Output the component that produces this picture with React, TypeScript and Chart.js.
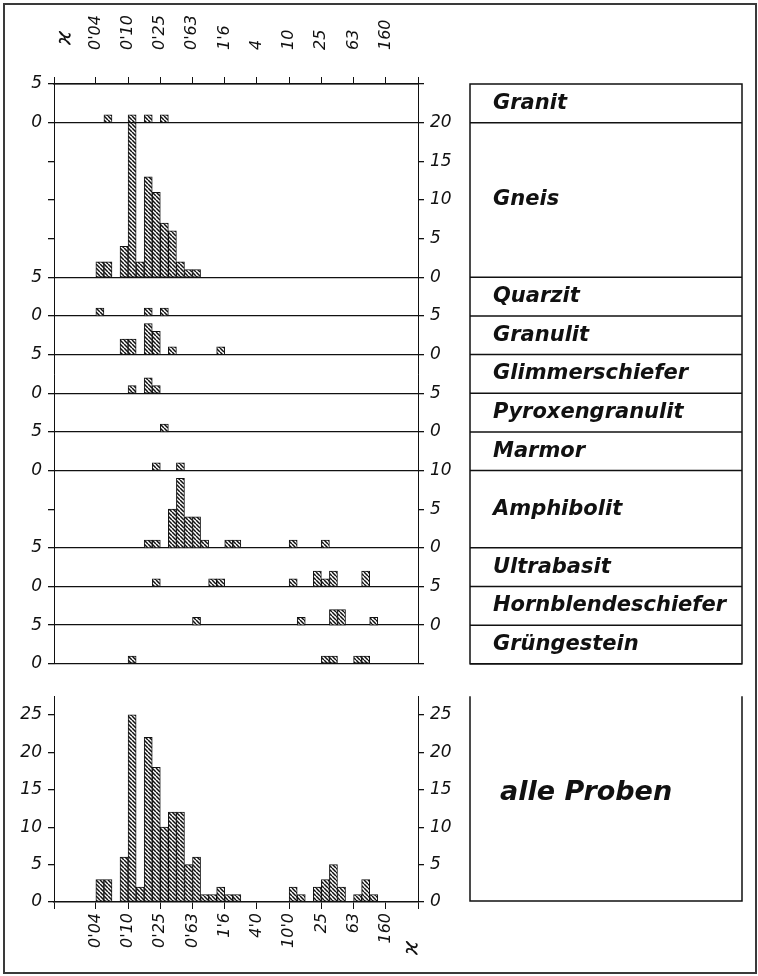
import React, { useEffect, useRef } from 'react';
import { Chart, registerables } from 'chart.js';

Chart.register(...registerables);

// x axis: susceptibility classes of 0.1 log-decade; class 0 starts at kappa = 0.04
const topTickLabels = ["0'04", "0'10", "0'25", "0'63", "1'6", "4", "10", "25", "63", "160"];
const bottomTickLabels = ["0'04", "0'10", "0'25", "0'63", "1'6", "4'0", "10'0", "25", "63", "160"];
const classesPerTick = 4;
const xMin = -5.2;
const xMax = 40;
const kappaSymbol = 'ϰ';

// rock types, top to bottom
const rockTypes = ['Granit', 'Gneis', 'Quarzit', 'Granulit', 'Glimmerschiefer', 'Pyroxengranulit', 'Marmor', 'Amphibolit', 'Ultrabasit', 'Hornblendeschiefer', 'Grüngestein'];
const panelMax = [5, 20, 5, 5, 5, 5, 5, 10, 5, 5, 5];
const labelSide = ['left', 'right', 'left', 'right', 'left', 'right', 'left', 'right', 'left', 'right', 'left'];
const panelTickStep = 5;

// counts per class (class 0 .. 34)
const granit = [0, 1, 0, 0, 1, 0, 1, 0, 1, 0, 0, 0, 0, 0, 0, 0, 0, 0, 0, 0, 0, 0, 0, 0, 0, 0, 0, 0, 0, 0, 0, 0, 0, 0, 0];
const gneis = [2, 2, 0, 4, 20, 2, 13, 11, 7, 6, 2, 1, 1, 0, 0, 0, 0, 0, 0, 0, 0, 0, 0, 0, 0, 0, 0, 0, 0, 0, 0, 0, 0, 0, 0];
const quarzit = [1, 0, 0, 0, 0, 0, 1, 0, 1, 0, 0, 0, 0, 0, 0, 0, 0, 0, 0, 0, 0, 0, 0, 0, 0, 0, 0, 0, 0, 0, 0, 0, 0, 0, 0];
const granulit = [0, 0, 0, 2, 2, 0, 4, 3, 0, 1, 0, 0, 0, 0, 0, 1, 0, 0, 0, 0, 0, 0, 0, 0, 0, 0, 0, 0, 0, 0, 0, 0, 0, 0, 0];
const glimmerschiefer = [0, 0, 0, 0, 1, 0, 2, 1, 0, 0, 0, 0, 0, 0, 0, 0, 0, 0, 0, 0, 0, 0, 0, 0, 0, 0, 0, 0, 0, 0, 0, 0, 0, 0, 0];
const pyroxengranulit = [0, 0, 0, 0, 0, 0, 0, 0, 1, 0, 0, 0, 0, 0, 0, 0, 0, 0, 0, 0, 0, 0, 0, 0, 0, 0, 0, 0, 0, 0, 0, 0, 0, 0, 0];
const marmor = [0, 0, 0, 0, 0, 0, 0, 1, 0, 0, 1, 0, 0, 0, 0, 0, 0, 0, 0, 0, 0, 0, 0, 0, 0, 0, 0, 0, 0, 0, 0, 0, 0, 0, 0];
const amphibolit = [0, 0, 0, 0, 0, 0, 1, 1, 0, 5, 9, 4, 4, 1, 0, 0, 1, 1, 0, 0, 0, 0, 0, 0, 1, 0, 0, 0, 1, 0, 0, 0, 0, 0, 0];
const ultrabasit = [0, 0, 0, 0, 0, 0, 0, 1, 0, 0, 0, 0, 0, 0, 1, 1, 0, 0, 0, 0, 0, 0, 0, 0, 1, 0, 0, 2, 1, 2, 0, 0, 0, 2, 0];
const hornblendeschiefer = [0, 0, 0, 0, 0, 0, 0, 0, 0, 0, 0, 0, 1, 0, 0, 0, 0, 0, 0, 0, 0, 0, 0, 0, 0, 1, 0, 0, 0, 2, 2, 0, 0, 0, 1];
const gruengestein = [0, 0, 0, 0, 1, 0, 0, 0, 0, 0, 0, 0, 0, 0, 0, 0, 0, 0, 0, 0, 0, 0, 0, 0, 0, 0, 0, 0, 1, 1, 0, 0, 1, 1, 0];
const rockSeries = [granit, gneis, quarzit, granulit, glimmerschiefer, pyroxengranulit, marmor, amphibolit, ultrabasit, hornblendeschiefer, gruengestein];

const allLabel = 'alle Proben';
const alleProben = [3, 3, 0, 6, 25, 2, 22, 18, 10, 12, 12, 5, 6, 1, 1, 2, 1, 1, 0, 0, 0, 0, 0, 0, 2, 1, 0, 2, 3, 5, 2, 0, 1, 3, 1];
const alleTicks = [0, 5, 10, 15, 20, 25];
const alleMax = 27.5;

// layout
const W = 758;
const TOP_H = 680;
const BOT_H = 296;
const PLOT_LEFT = 54;
const PLOT_RIGHT = 418;
const BOX_LEFT = 470;
const BOX_RIGHT = 742;
const FONT = "'DejaVu Sans', 'Liberation Sans', sans-serif";
const INK = '#111';

const panelBase: number[] = [];
(() => {
  let acc = 0;
  for (let i = rockTypes.length - 1; i >= 0; i--) {
    panelBase[i] = acc;
    acc += panelMax[i];
  }
})();
const panelTotal = panelMax.reduce((a, b) => a + b, 0);

function makeHatch(): CanvasPattern | string {
  const s = 4;
  const c = document.createElement('canvas');
  c.width = s;
  c.height = s;
  const g = c.getContext('2d');
  if (!g) return '#999';
  g.fillStyle = '#fff';
  g.fillRect(0, 0, s, s);
  g.strokeStyle = '#111';
  g.lineWidth = 1.5;
  g.beginPath();
  for (const k of [-s, 0, s]) {
    g.moveTo(k, 0);
    g.lineTo(k + s, s);
  }
  g.stroke();
  return g.createPattern(c, 'repeat') || '#999';
}

export default function App() {
  const topRef = useRef<HTMLCanvasElement>(null);
  const botRef = useRef<HTMLCanvasElement>(null);

  useEffect(() => {
    if (!topRef.current || !botRef.current) return;
    const hatch = makeHatch();
    const tickFont = { family: FONT, size: 17, style: 'italic' as const };
    const xTickFont = { family: FONT, size: 16, style: 'italic' as const };

    const xTicks: number[] = [xMin];
    for (let v = 0; v <= xMax; v += classesPerTick) xTicks.push(v);
    const xLabel = (labels: string[]) => (val: any) => {
      const n = Number(val);
      if (n >= 0 && n % classesPerTick === 0) return labels[n / classesPerTick] ?? '';
      return '';
    };

    const leftLab = new Map<number, string>();
    const rightLab = new Map<number, string>();
    const yTickSet = new Set<number>();
    const boundaries = new Set<number>();
    rockTypes.forEach((_, i) => {
      const b = panelBase[i];
      boundaries.add(b);
      boundaries.add(b + panelMax[i]);
      for (let v = 0; v <= panelMax[i]; v += panelTickStep) {
        yTickSet.add(b + v);
        (labelSide[i] === 'left' ? leftLab : rightLab).set(b + v, String(v));
      }
    });
    const yTicks = Array.from(yTickSet).sort((a, b) => a - b);

    const barStyle = {
      backgroundColor: hatch,
      borderColor: INK,
      borderWidth: 1,
      borderSkipped: false,
      grouped: false,
      barPercentage: 1,
      categoryPercentage: 1,
    };

    const xScale = (position: string, labels: string[], padding: number, height: number, labelOffset: number) => ({
      type: 'linear',
      position,
      min: xMin,
      max: xMax,
      offset: false,
      grid: { drawOnChartArea: false, offset: false, tickLength: 7, tickColor: INK, lineWidth: 1 },
      border: { display: true, color: INK, width: 1.5 },
      ticks: {
        autoSkip: false,
        minRotation: 90,
        maxRotation: 90,
        padding,
        labelOffset,
        color: INK,
        font: xTickFont,
        callback: xLabel(labels),
      },
      afterBuildTicks: (s: any) => {
        s.ticks = xTicks.map((v) => ({ value: v }));
      },
      afterFit: (s: any) => {
        s.height = height;
      },
    });

    const rockBoxes = {
      id: 'rockBoxes',
      afterDraw(chart: any) {
        const ctx = chart.ctx;
        const y = chart.scales.yL;
        ctx.save();
        ctx.strokeStyle = INK;
        ctx.lineWidth = 1.5;
        const top = y.getPixelForValue(panelTotal);
        const bottom = y.getPixelForValue(0);
        ctx.strokeRect(BOX_LEFT, top, BOX_RIGHT - BOX_LEFT, bottom - top);
        ctx.fillStyle = INK;
        ctx.font = `italic bold 21px ${FONT}`;
        ctx.textBaseline = 'middle';
        ctx.textAlign = 'left';
        rockTypes.forEach((name, i) => {
          const yb = y.getPixelForValue(panelBase[i]);
          const yt = y.getPixelForValue(panelBase[i] + panelMax[i]);
          ctx.beginPath();
          ctx.moveTo(BOX_LEFT, yb);
          ctx.lineTo(BOX_RIGHT, yb);
          ctx.stroke();
          ctx.fillText(name, BOX_LEFT + 23, (yb + yt) / 2);
        });
        ctx.font = `italic 22px ${FONT}`;
        ctx.textAlign = 'center';
        ctx.translate(65, 38);
        ctx.rotate(-Math.PI / 2);
        ctx.fillText(kappaSymbol, 0, 0);
        ctx.restore();
      },
    };

    const topChart = new Chart(topRef.current, {
      type: 'bar',
      data: {
        datasets: rockTypes.map((name, i) => ({
          label: name,
          data: rockSeries[i]
            .map((v, k) => ({ x: k + 0.5, y: [panelBase[i], panelBase[i] + v], v }))
            .filter((d) => d.v > 0)
            .map(({ x, y }) => ({ x, y })),
          xAxisID: 'x',
          yAxisID: 'yL',
          ...barStyle,
        })) as any,
      },
      options: {
        responsive: false,
        animation: false,
        layout: { padding: { left: 0, right: W - PLOT_RIGHT - 40, top: 0, bottom: 10 } },
        plugins: { legend: { display: false }, tooltip: { enabled: false } },
        scales: {
          x: xScale('top', topTickLabels, 27, 84, 19) as any,
          yL: {
            type: 'linear',
            position: 'left',
            min: 0,
            max: panelTotal,
            grid: {
              drawOnChartArea: true,
              tickLength: 6,
              tickColor: INK,
              lineWidth: 1.3,
              color: (c: any) => (c.tick && boundaries.has(c.tick.value) ? INK : 'rgba(0,0,0,0)'),
            },
            border: { display: true, color: INK, width: 1 },
            ticks: { padding: 6, color: INK, font: tickFont, callback: (v: any) => leftLab.get(Number(v)) ?? '' },
            afterBuildTicks: (s: any) => {
              s.ticks = yTicks.map((v) => ({ value: v }));
            },
            afterFit: (s: any) => {
              s.width = PLOT_LEFT;
            },
          } as any,
          yR: {
            type: 'linear',
            position: 'right',
            min: 0,
            max: panelTotal,
            grid: { drawOnChartArea: false, tickLength: 6, tickColor: INK, lineWidth: 1.3 },
            border: { display: true, color: INK, width: 1 },
            ticks: { padding: 6, color: INK, font: tickFont, callback: (v: any) => rightLab.get(Number(v)) ?? '' },
            afterBuildTicks: (s: any) => {
              s.ticks = yTicks.map((v) => ({ value: v }));
            },
            afterFit: (s: any) => {
              s.width = 40;
            },
          } as any,
        },
      },
      plugins: [rockBoxes],
    });

    const allBox = {
      id: 'allBox',
      afterDraw(chart: any) {
        const ctx = chart.ctx;
        const y = chart.scales.y;
        const top = chart.chartArea.top;
        const bottom = y.getPixelForValue(0) - 1;
        ctx.save();
        ctx.strokeStyle = INK;
        ctx.lineWidth = 1.5;
        ctx.beginPath();
        ctx.moveTo(BOX_LEFT, top);
        ctx.lineTo(BOX_LEFT, bottom);
        ctx.lineTo(BOX_RIGHT, bottom);
        ctx.lineTo(BOX_RIGHT, top);
        ctx.stroke();
        ctx.fillStyle = INK;
        ctx.font = `italic bold 27px ${FONT}`;
        ctx.textBaseline = 'middle';
        ctx.textAlign = 'left';
        ctx.fillText(allLabel, BOX_LEFT + 30, (top + bottom) / 2 - 6);
        ctx.font = `italic 22px ${FONT}`;
        ctx.textAlign = 'center';
        ctx.translate(412, 948 - (976 - BOT_H));
        ctx.rotate(-Math.PI / 2);
        ctx.fillText(kappaSymbol, 0, 0);
        ctx.restore();
      },
    };

    const yAll = (position: string, width: number) => ({
      type: 'linear',
      position,
      min: 0,
      max: alleMax,
      grid: { drawOnChartArea: false, tickLength: 6, tickColor: INK, lineWidth: 1.3 },
      border: { display: true, color: INK, width: 1 },
      ticks: { padding: 6, color: INK, font: tickFont },
      afterBuildTicks: (s: any) => {
        s.ticks = alleTicks.map((v) => ({ value: v }));
      },
      afterFit: (s: any) => {
        s.width = width;
      },
    });

    const botChart = new Chart(botRef.current, {
      type: 'bar',
      data: {
        datasets: [
          {
            label: allLabel,
            data: alleProben
              .map((v, k) => ({ x: k + 0.5, y: v }))
              .filter((d) => d.y > 0),
            xAxisID: 'x',
            yAxisID: 'y',
            ...barStyle,
          } as any,
        ],
      },
      options: {
        responsive: false,
        animation: false,
        layout: { padding: { left: 0, right: W - PLOT_RIGHT - 40, top: 10, bottom: 0 } },
        plugins: { legend: { display: false }, tooltip: { enabled: false } },
        scales: {
          x: xScale('bottom', bottomTickLabels, 4, 74, 0) as any,
          y: yAll('left', PLOT_LEFT) as any,
          y2: yAll('right', 40) as any,
        },
      },
      plugins: [allBox],
    });

    return () => {
      topChart.destroy();
      botChart.destroy();
    };
  }, []);

  return (
    <div style={{ position: 'absolute', left: 0, top: 0, width: W, height: TOP_H + BOT_H, background: '#fff' }}>
      <div
        style={{
          position: 'absolute',
          left: 3,
          top: 3,
          width: 754,
          height: 971,
          border: '2px solid #3a3a3a',
          boxSizing: 'border-box',
        }}
      />
      <canvas ref={topRef} width={W} height={TOP_H} style={{ position: 'absolute', left: 0, top: 0 }} />
      <canvas ref={botRef} width={W} height={BOT_H} style={{ position: 'absolute', left: 0, top: TOP_H }} />
    </div>
  );
}
